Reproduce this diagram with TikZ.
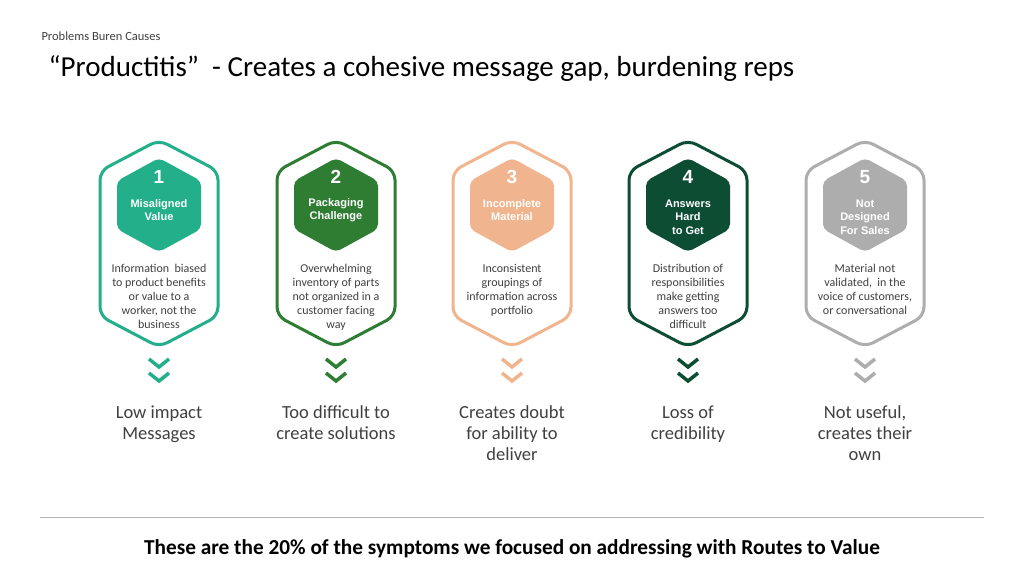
\documentclass[tikz,border=0pt]{standalone}
\usepackage{fontspec}
\setmainfont{Carlito}
\newfontfamily\arialf{Liberation Sans}
\definecolor{cA}{HTML}{22AF8A}
\definecolor{cB}{HTML}{2E7D32}
\definecolor{cC}{HTML}{F0B48E}
\definecolor{cD}{HTML}{0D4D34}
\definecolor{cE}{HTML}{ADADAD}
\definecolor{txt}{HTML}{404040}
\tikzset{
 outerhex/.style={line width=3pt,rounded corners=9pt},
 innerhex/.style={rounded corners=5pt},
 hextitle/.style={text=white,font=\arialf\bfseries\fontsize{11}{13.5}\selectfont,align=center},
 hexnum/.style={text=white,font=\arialf\bfseries\fontsize{19}{20}\selectfont},
 bodytxt/.style={text=txt,font=\fontsize{12}{14}\selectfont,align=center,anchor=north},
 outtxt/.style={text=txt,font=\fontsize{18.5}{21}\selectfont,align=center,anchor=north},
 chev/.style={line width=3.5pt}
}
\newcommand{\col}[6]{%
 \begin{scope}[xshift=#1]
  \draw[outerhex,#2] (0,140)--(59,171)--(59,316)--(0,347)--(-59,316)--(-59,171)--cycle;
  \fill[innerhex,#2] (0,158)--(42,181)--(42,229)--(0,252)--(-42,229)--(-42,181)--cycle;
  \node[hexnum] (n#1) at (0,177) {#3};
  \node[hextitle] (t#1) at (0,#6) {#4};
  \node[bodytxt] (b#1) at (0,261) {#5};
  \draw[chev,#2] (-10,359)--(0,367)--(10,359);
  \draw[chev,#2] (-10,373)--(0,381)--(10,373);
 \end{scope}}
\begin{document}
\begin{tikzpicture}[x=1pt,y=-1pt]
\useasboundingbox (0,0) rectangle (1024,576);
\fill[white] (0,0) rectangle (1024,576);
\node[anchor=west,text=txt,font=\fontsize{12.5}{14}\selectfont] (hdr) at (38,36) {Problems Buren Causes};
\node[anchor=west,text=black,font=\fontsize{29}{32}\selectfont] (ttl) at (45,69) {“Productitis”~~- Creates a cohesive message gap, burdening reps};
\col{159}{cA}{1}{Misaligned\\Value}{Information~ biased\\to product benefits\\or value to a\\worker, not the\\business}{210}
\col{336}{cB}{2}{Packaging\\Challenge}{Overwhelming\\inventory of parts\\not organized in a\\customer facing\\way}{210}
\col{512}{cC}{3}{Incomplete\\Material}{Inconsistent\\groupings of\\information across\\portfolio}{210}
\col{688}{cD}{4}{Answers\\Hard\\to Get}{Distribution of\\responsibilities\\make getting\\answers too\\difficult}{217}
\col{865}{cE}{5}{Not\\Designed\\For Sales}{Material not\\validated,~ in the\\voice of customers,\\or conversational}{217}
\node[outtxt] (o1) at (159,402) {Low impact\\Messages};
\node[outtxt] (o2) at (336,402) {Too difficult to\\create solutions};
\node[outtxt] (o3) at (512,402) {Creates doubt\\for ability to\\deliver};
\node[outtxt] (o4) at (688,402) {Loss of\\credibility};
\node[outtxt] (o5) at (865,402) {Not useful,\\creates their\\own};
\coordinate (l1) at (40,517); \coordinate (l2) at (984,517);
\draw[line width=1pt,color=black!30] (l1)--(l2);
\node[font=\bfseries\fontsize{21.3}{23}\selectfont] (ft) at (512,549) {These are the 20\% of the symptoms we focused on addressing with Routes to Value};
\end{tikzpicture}
\end{document}
